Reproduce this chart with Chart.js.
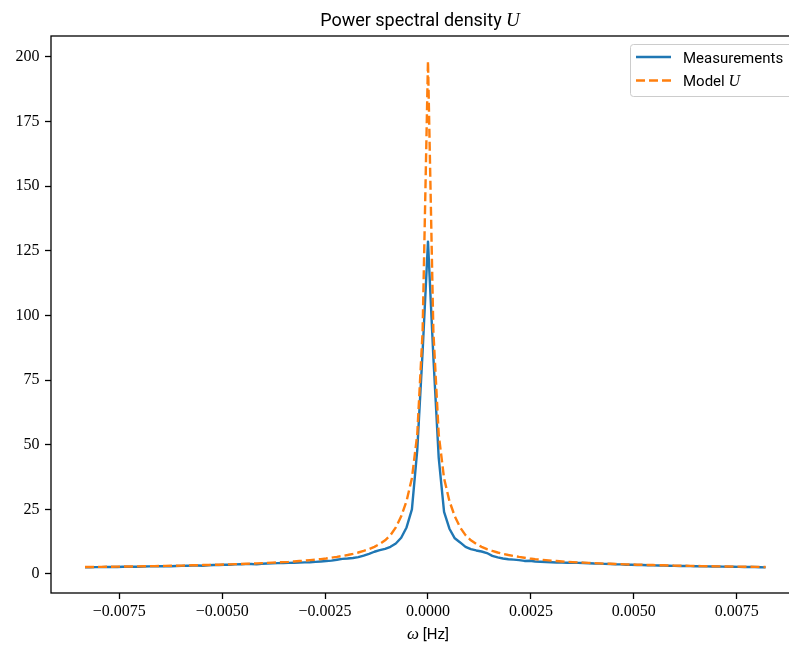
<!DOCTYPE html>
<html>
<head>
<meta charset="utf-8">
<script src="https://cdn.jsdelivr.net/npm/chart.js@4.4.1/dist/chart.umd.min.js"></script>
<style>
  html, body { margin: 0; padding: 0; background: #ffffff; }
  #chart { display: block; }
</style>
</head>
<body>
<canvas id="chart" width="789" height="645" style="width:789px;height:645px"></canvas>
<script>
// ---------------- data ----------------
const frequencyHz = [
  -0.00833333, -0.00820313, -0.00807292, -0.00794271, -0.0078125, -0.00768229, -0.00755208, -0.00742188,
  -0.00729167, -0.00716146, -0.00703125, -0.00690104, -0.00677083, -0.00664063, -0.00651042, -0.00638021,
  -0.00625, -0.00611979, -0.00598958, -0.00585938, -0.00572917, -0.00559896, -0.00546875, -0.00533854,
  -0.00520833, -0.00507813, -0.00494792, -0.00481771, -0.0046875, -0.00455729, -0.00442708, -0.00429688,
  -0.00416667, -0.00403646, -0.00390625, -0.00377604, -0.00364583, -0.00351563, -0.00338542, -0.00325521,
  -0.003125, -0.00299479, -0.00286458, -0.00273438, -0.00260417, -0.00247396, -0.00234375, -0.00221354,
  -0.00208333, -0.00195313, -0.00182292, -0.00169271, -0.0015625, -0.00143229, -0.00130208, -0.00117188,
  -0.00104167, -0.00091146, -0.00078125, -0.00065104, -0.00052083, -0.00039063, -0.00026042, -0.00013021,
  0,
  0.00013021, 0.00026042, 0.00039063, 0.00052083, 0.00065104, 0.00078125, 0.00091146, 0.00104167,
  0.00117188, 0.00130208, 0.00143229, 0.0015625, 0.00169271, 0.00182292, 0.00195313, 0.00208333,
  0.00221354, 0.00234375, 0.00247396, 0.00260417, 0.00273438, 0.00286458, 0.00299479, 0.003125,
  0.00325521, 0.00338542, 0.00351563, 0.00364583, 0.00377604, 0.00390625, 0.00403646, 0.00416667,
  0.00429688, 0.00442708, 0.00455729, 0.0046875, 0.00481771, 0.00494792, 0.00507813, 0.00520833,
  0.00533854, 0.00546875, 0.00559896, 0.00572917, 0.00585938, 0.00598958, 0.00611979, 0.00625,
  0.00638021, 0.00651042, 0.00664063, 0.00677083, 0.00690104, 0.00703125, 0.00716146, 0.00729167,
  0.00742188, 0.00755208, 0.00768229, 0.0078125, 0.00794271, 0.00807292, 0.00820313
];

const measurements = [
  2.6, 2.62, 2.66, 2.64, 2.7, 2.72, 2.7, 2.78, 2.8, 2.84,
  2.82, 2.9, 2.95, 2.93, 3.0, 3.05, 3.02, 3.1, 3.15, 3.2,
  3.22, 3.3, 3.2, 3.38, 3.45, 3.5, 3.55, 3.6, 3.7, 3.75,
  3.8, 3.85, 3.7, 3.95, 4.05, 4.1, 4.2, 4.25, 4.3, 4.35,
  4.4, 4.5, 4.55, 4.7, 4.85, 5.0, 5.15, 5.5, 5.85, 6.0,
  6.2, 6.5, 7.1, 7.8, 8.6, 9.2, 9.7, 10.5, 11.8, 14.0,
  18.0, 25, 48, 86,
  128.5,
  84, 45, 24, 17.5, 13.8, 12.2, 10.5, 9.6, 9.1, 8.7,
  8.1, 7.0, 6.4, 6.0, 5.7, 5.55, 5.35, 5.05, 5.1, 4.85,
  4.75, 4.65, 4.55, 4.45, 4.4, 4.35, 4.35, 4.3, 4.25, 4.15,
  4.05, 4.0, 3.9, 3.85, 3.75, 3.7, 3.6, 3.55, 3.5, 3.45,
  3.4, 3.32, 3.3, 3.25, 3.2, 3.15, 3.1, 3.08, 3.05, 3.0,
  2.95, 2.95, 2.9, 2.88, 2.85, 2.8, 2.8, 2.75, 2.72, 2.7,
  2.68, 2.62, 2.55
];

const modelU = [
  2.68, 2.7, 2.73, 2.75, 2.78, 2.8, 2.83, 2.86, 2.89, 2.92,
  2.95, 2.98, 3.02, 3.05, 3.09, 3.13, 3.17, 3.21, 3.25, 3.3,
  3.35, 3.4, 3.45, 3.5, 3.55, 3.6, 3.67, 3.73, 3.8, 3.87,
  3.95, 4.0, 4.1, 4.2, 4.3, 4.4, 4.5, 4.6, 4.7, 4.85,
  5.0, 5.15, 5.35, 5.55, 5.75, 6.0, 6.3, 6.6, 6.95, 7.35,
  7.8, 8.3, 8.9, 9.6, 10.5, 11.6, 13.0, 15.0, 18.0, 22.3,
  28.2, 37, 54, 94,
  198.3,
  94, 54, 37, 28.2, 22.3, 18.0, 15.0, 13.0, 11.6, 10.5,
  9.6, 8.9, 8.3, 7.8, 7.35, 6.95, 6.6, 6.3, 6.0, 5.75,
  5.55, 5.35, 5.15, 5.0, 4.85, 4.7, 4.6, 4.5, 4.4, 4.3,
  4.2, 4.1, 4.0, 3.95, 3.87, 3.8, 3.73, 3.67, 3.6, 3.55,
  3.5, 3.45, 3.4, 3.35, 3.3, 3.25, 3.21, 3.17, 3.13, 3.09,
  3.05, 3.02, 2.98, 2.95, 2.92, 2.89, 2.86, 2.83, 2.8, 2.78,
  2.75, 2.73, 2.7
];

const xTickValues = [-0.0075, -0.005, -0.0025, 0, 0.0025, 0.005, 0.0075];
const xTickLabels = ['\u22120.0075', '\u22120.0050', '\u22120.0025', '0.0000', '0.0025', '0.0050', '0.0075'];
const yTickValues = [0, 25, 50, 75, 100, 125, 150, 175, 200];
const yTickLabels = ['0', '25', '50', '75', '100', '125', '150', '175', '200'];

const titleParts = ['Power spectral density ', 'U'];
const xLabelParts = ['\u03c9', ' [Hz]'];
const legendLabels = [['Measurements', ''], ['Model ', 'U']];

// ---------------- styling ----------------
const SANS = "Roboto, 'DejaVu Sans', sans-serif";
const SERIF = "'Liberation Serif', 'DejaVu Serif', serif";
const BLUE = '#1f77b4';
const ORANGE = '#ff7f0e';
const DASH = [9, 4];

function drawParts(ctx, parts, cx, baseline, align) {
  let total = 0;
  const widths = parts.map(p => { ctx.font = p.font; const w = ctx.measureText(p.text).width; total += w; return w; });
  let x = align === 'center' ? cx - total / 2 : cx;
  ctx.textBaseline = 'alphabetic';
  ctx.textAlign = 'left';
  parts.forEach((p, i) => { ctx.font = p.font; ctx.fillStyle = '#000'; ctx.fillText(p.text, x, baseline); x += widths[i]; });
}

const decor = {
  id: 'decor',
  beforeDraw(chart) {
    const ctx = chart.ctx;
    ctx.save();
    ctx.fillStyle = '#ffffff';
    ctx.fillRect(0, 0, chart.width, chart.height);
    ctx.restore();
  },
  afterDraw(chart) {
    const { ctx, chartArea: a } = chart;
    ctx.save();
    // frame
    ctx.strokeStyle = '#000';
    ctx.lineWidth = 1.3;
    ctx.strokeRect(a.left, a.top, a.right - a.left + 20, a.bottom - a.top);
    // title
    drawParts(ctx, [
      { text: titleParts[0], font: '18px ' + SANS },
      { text: titleParts[1], font: 'italic 19px ' + SERIF }
    ], 420, 26, 'center');
    // x axis label
    drawParts(ctx, [
      { text: xLabelParts[0], font: 'italic 17px ' + SERIF },
      { text: xLabelParts[1], font: '15px ' + SANS }
    ], 428, 639, 'center');
    // legend
    const lx = 630, ly = 44, lw = 200, lh = 52;
    ctx.beginPath();
    ctx.roundRect(lx + 0.5, ly + 0.5, lw, lh, 3);
    ctx.fillStyle = 'rgba(255,255,255,0.8)';
    ctx.fill();
    ctx.strokeStyle = '#cccccc';
    ctx.lineWidth = 1;
    ctx.stroke();
    const rows = [
      { y: 57, color: BLUE, dash: [] },
      { y: 80.5, color: ORANGE, dash: DASH }
    ];
    rows.forEach((r, i) => {
      ctx.beginPath();
      ctx.setLineDash(r.dash);
      ctx.strokeStyle = r.color;
      ctx.lineWidth = 2.4;
      ctx.lineCap = 'butt';
      ctx.moveTo(636, r.y);
      ctx.lineTo(671, r.y);
      ctx.stroke();
      ctx.setLineDash([]);
      const parts = [{ text: legendLabels[i][0], font: '15px ' + SANS }];
      if (legendLabels[i][1]) parts.push({ text: legendLabels[i][1], font: 'italic 16px ' + SERIF });
      drawParts(ctx, parts, 683, r.y + 5.5, 'left');
    });
    ctx.restore();
  }
};

const tickGrid = { display: true, drawOnChartArea: false, drawTicks: true, tickLength: 6, tickWidth: 1.3, tickColor: '#000' };

new Chart(document.getElementById('chart'), {
  type: 'line',
  data: {
    datasets: [
      {
        label: 'Measurements',
        data: frequencyHz.map((f, i) => ({ x: f, y: measurements[i] })),
        borderColor: BLUE,
        borderWidth: 2.4,
        pointRadius: 0,
        tension: 0,
        fill: false,
        borderJoinStyle: 'round',
        order: 1
      },
      {
        label: 'Model U',
        data: frequencyHz.map((f, i) => ({ x: f, y: modelU[i] })),
        borderColor: ORANGE,
        borderWidth: 2.4,
        borderDash: DASH,
        pointRadius: 0,
        tension: 0,
        fill: false,
        borderJoinStyle: 'round',
        order: 0
      }
    ]
  },
  options: {
    responsive: false,
    animation: false,
    events: [],
    layout: { padding: { top: 36, left: 0, right: 0, bottom: 0 } },
    plugins: { legend: { display: false }, title: { display: false }, tooltip: { enabled: false } },
    scales: {
      x: {
        type: 'linear',
        min: -0.009159,
        max: 0.008771,
        afterBuildTicks: s => { s.ticks = xTickValues.map(v => ({ value: v })); },
        afterFit: s => { s.height = 52; },
        grid: tickGrid,
        border: { display: false },
        ticks: {
          autoSkip: false, maxRotation: 0, minRotation: 0,
          padding: 3,
          color: '#000',
          font: { family: SERIF, size: 16 },
          callback: (v, i) => xTickLabels[i]
        }
      },
      y: {
        type: 'linear',
        min: -7.35,
        max: 208,
        afterBuildTicks: s => { s.ticks = yTickValues.map(v => ({ value: v })); },
        afterFit: s => { s.width = 51; },
        grid: tickGrid,
        border: { display: false },
        ticks: {
          autoSkip: false,
          padding: 5.5,
          color: '#000',
          font: { family: SERIF, size: 16 },
          callback: (v, i) => yTickLabels[i]
        }
      }
    }
  },
  plugins: [decor]
});
</script>
</body>
</html>
